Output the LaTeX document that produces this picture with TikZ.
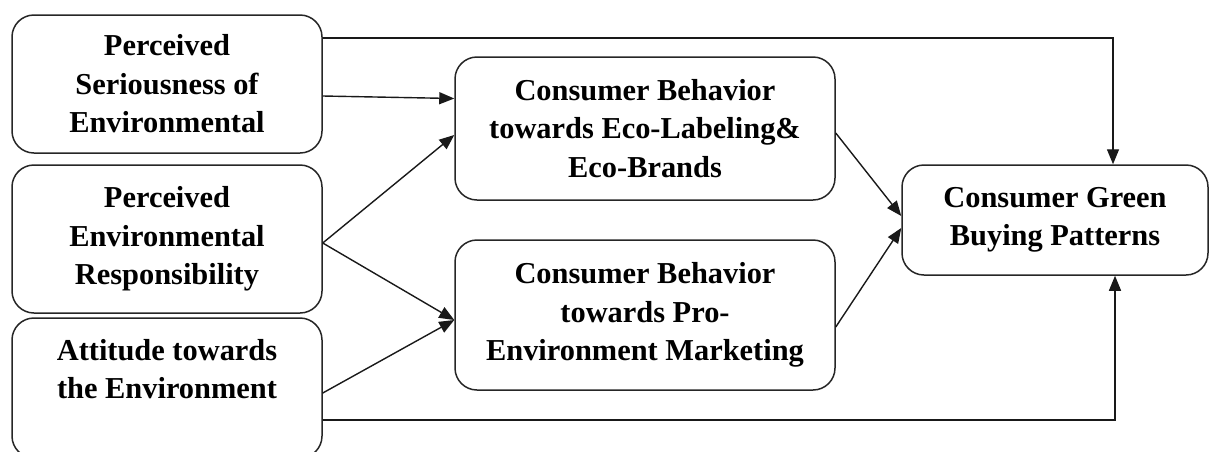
\documentclass[tikz,border=0pt]{standalone}
\usepackage{fontspec}
\setmainfont{Liberation Serif}
\usetikzlibrary{arrows.meta}
\begin{document}
\begin{tikzpicture}[x=1pt,y=-1pt,
  box/.style={draw=black!85, line width=1.5pt, rounded corners=22pt, align=center,
    inner sep=0pt, font=\fontsize{30.4}{38.5}\selectfont\bfseries},
  link/.style={draw=black!90, line width=1.4pt, -{Triangle[length=15pt,width=12pt]}}]
  \useasboundingbox (0,0) rectangle (1209,451);
  % source constructs
  \node[box, minimum width=310pt, minimum height=138pt] (seri) at (167,84)
    {Perceived\\Seriousness of\\Environmental};
  \node[box, minimum width=310pt, minimum height=148pt] (resp) at (167,239)
    {Perceived\\Environmental\\Responsibility};
  \node[box, minimum width=310pt, minimum height=140pt] (atti) at (167,388)
    {Attitude towards\\the Environment\\~};
  % mediating constructs
  \node[box, minimum width=380pt, minimum height=143pt] (eco) at (645,128.5)
    {Consumer Behavior\\towards Eco-Labeling\&\\Eco-Brands};
  \node[box, minimum width=380pt, minimum height=150pt] (pro) at (645,315)
    {Consumer Behavior\\towards Pro-\\Environment Marketing};
  % outcome
  \node[box, minimum width=306pt, minimum height=110pt] (green) at (1055,220)
    {Consumer Green\\Buying Patterns};
  % direct paths to the outcome
  \draw[link] ([yshift=46pt]seri.east) -| ([xshift=58pt]green.north);
  \draw[link] ([yshift=-32pt]atti.east) -| ([xshift=60pt]green.south);
  % paths to the mediators
  \draw[link] ([yshift=-12pt]seri.east) -- ([yshift=30pt]eco.west);
  \draw[link] ([yshift=-4pt]resp.east) -- ([yshift=-6.5pt]eco.west);
  \draw[link] ([yshift=-4pt]resp.east) -- ([yshift=-5pt]pro.west);
  \draw[link] ([yshift=-5pt]atti.east) -- ([yshift=-5pt]pro.west);
  % mediators to the outcome
  \draw[link] ([yshift=-4.5pt]eco.east) -- ([yshift=4pt]green.west);
  \draw[link] ([yshift=-12pt]pro.east) -- ([yshift=-8pt]green.west);
\end{tikzpicture}
\end{document}
